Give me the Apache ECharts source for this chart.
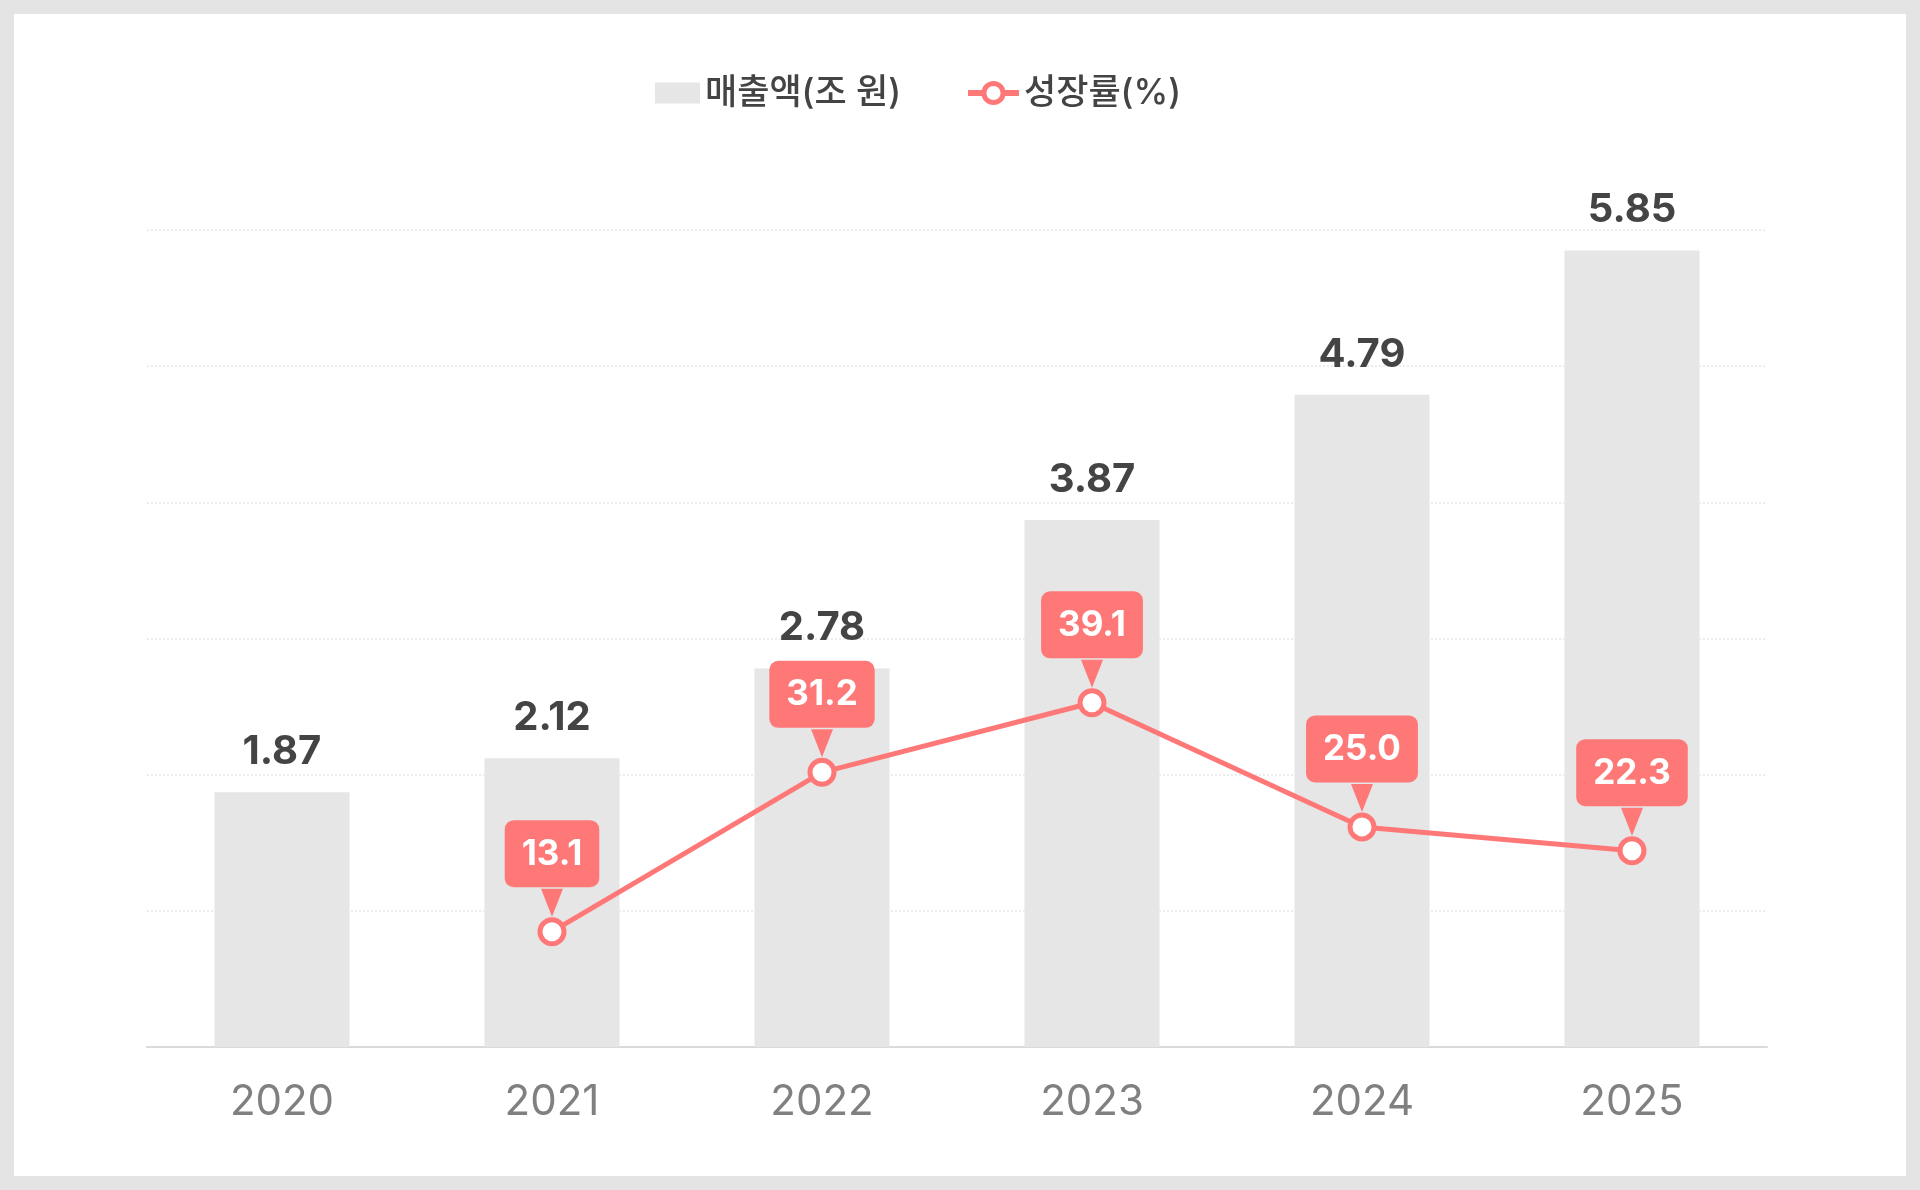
<!DOCTYPE html>
<html>
<head>
<meta charset="utf-8">
<script src="https://cdn.jsdelivr.net/npm/echarts@6/dist/echarts.min.js"></script>
<style>
  html, body { margin: 0; padding: 0; }
  body { width: 1920px; height: 1190px; background: #e4e4e4; position: relative; overflow: hidden; }
  #chart { position: absolute; left: 14px; top: 14px; width: 1892px; height: 1162px; background: #ffffff; }
</style>
</head>
<body>
<div id="chart"></div>
<script>
const years = ['2020', '2021', '2022', '2023', '2024', '2025'];
const revenue = [1.87, 2.12, 2.78, 3.87, 4.79, 5.85];
const growth = [null, 13.1, 31.2, 39.1, 25.0, 22.3];
const seriesNames = ['매출액(조 원)', '성장률(%)'];

const FONT = "Inter, 'Noto Sans CJK KR', sans-serif";
const RED = '#ff7878';

const legendText = { fontSize: 35, fontWeight: 500, lineHeight: 40, color: '#444444', fontFamily: FONT };

const chart = echarts.init(document.getElementById('chart'), null, { renderer: 'canvas' });
chart.setOption({
  animation: false,
  textStyle: { fontFamily: FONT },
  legend: [
    {
      data: [{ name: seriesNames[0], icon: 'rect' }],
      left: 641,
      top: 59,
      padding: 0,
      itemWidth: 45,
      itemHeight: 21,
      textStyle: legendText
    },
    {
      data: [{ name: seriesNames[1], itemStyle: { borderWidth: 5, borderColor: RED, color: '#fff' }, lineStyle: { width: 6, color: RED } }],
      left: 951,
      top: 59,
      padding: 0,
      itemWidth: 51,
      itemHeight: 24,
      textStyle: legendText
    }
  ],
  grid: { left: 133, right: 139, top: 216, bottom: 129, containLabel: false },
  xAxis: {
    type: 'category',
    data: years,
    boundaryGap: true,
    axisTick: { show: false },
    axisLine: { lineStyle: { color: '#dadada', width: 2 } },
    axisLabel: { fontSize: 42, color: '#808080', margin: 34, fontFamily: FONT }
  },
  yAxis: [
    {
      type: 'value', min: 0, max: 6, interval: 1,
      axisLabel: { show: false },
      axisLine: { show: false },
      axisTick: { show: false },
      splitLine: { show: true, lineStyle: { color: '#ececec', type: 'dotted', width: 2 } }
    },
    {
      type: 'value', min: 0, max: 92.8,
      axisLabel: { show: false },
      axisLine: { show: false },
      axisTick: { show: false },
      splitLine: { show: false }
    }
  ],
  series: [
    {
      name: seriesNames[0],
      type: 'bar',
      data: revenue,
      barWidth: '50%',
      itemStyle: { color: '#e6e6e6' },
      label: {
        show: true,
        position: 'top',
        distance: 20,
        fontSize: 40,
        fontWeight: 'bold',
        color: '#444444',
        fontFamily: FONT,
        formatter: p => p.value.toFixed(2)
      },
      z: 2
    },
    {
      name: 'pointer',
      type: 'scatter',
      yAxisIndex: 1,
      data: growth,
      symbol: 'triangle',
      symbolRotate: 180,
      symbolSize: [22, 28],
      symbolOffset: [0, -29],
      itemStyle: { color: RED, opacity: 1 },
      silent: true,
      z: 4
    },
    {
      name: seriesNames[1],
      type: 'line',
      yAxisIndex: 1,
      data: growth,
      symbol: 'circle',
      symbolSize: 24,
      showAllSymbol: true,
      lineStyle: { color: RED, width: 5 },
      itemStyle: { color: '#ffffff', borderColor: RED, borderWidth: 5 },
      label: {
        show: true,
        position: 'top',
        distance: 30,
        fontSize: 35,
        lineHeight: 40,
        fontWeight: 'bold',
        color: '#ffffff',
        fontFamily: FONT,
        backgroundColor: RED,
        borderRadius: 9,
        padding: [14, 17, 13, 17],
        formatter: p => (p.value == null ? '' : Number(p.value).toFixed(1))
      },
      z: 5
    }
  ]
});
</script>
</body>
</html>
